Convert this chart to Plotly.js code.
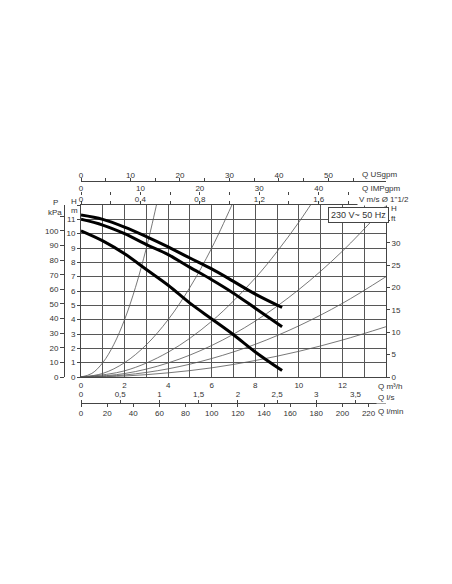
<!DOCTYPE html>
<html><head><meta charset="utf-8">
<script src="https://cdn.plot.ly/plotly-3.0.1.min.js"></script>
<style>html,body{margin:0;padding:0;background:#fff;}#chart{width:452px;height:584px;}</style>
</head><body><div id="chart"></div>
<script>
// ---- Pump curves: flow Q (m3/h) vs head H (m) ----
const pumpQ = [0, 1, 2, 3, 4, 5, 6, 7, 8, 9.23];
const pumpH_high = [11.3, 11.0, 10.46, 9.8, 9.08, 8.3, 7.54, 6.67, 5.78, 4.85];
const pumpH_mid  = [11.0, 10.6, 10.0, 9.24, 8.54, 7.65, 6.79, 5.85, 4.8, 3.5];
const pumpH_low  = [10.2, 9.5, 8.6, 7.5, 6.4, 5.15, 4.05, 2.95, 1.75, 0.45];

// ---- Thin system curves (Q m3/h, H m) ----
const sysA_Q = [0, 0.5, 1, 1.5, 2, 2.5, 3, 3.5, 3.7];
const sysA_H = [0, 0.25, 1, 2.25, 4, 6.25, 9, 12.25, 13.7];
const sysB_Q = [0, 1, 2, 3, 4, 5, 6, 7, 7.3];
const sysB_H = [0, 0.25, 1, 2.25, 4, 6.25, 9, 12.25, 13.3];
const sysC_Q = [0, 2, 4, 6, 8, 9, 10, 11];
const sysC_H = [0, 0.43, 1.73, 3.89, 6.91, 8.75, 10.8, 13.07];
const sysD_Q = [0, 2, 4, 6, 8, 10, 12, 14];
const sysD_H = [0, 0.24, 0.98, 2.2, 3.9, 6.1, 8.78, 11.96];
const sysE_Q = [0, 2, 4, 6, 8, 10, 12, 14];
const sysE_H = [0, 0.14, 0.57, 1.29, 2.28, 3.57, 5.14, 7.0];
const sysF_Q = [0, 2, 4, 6, 8, 10, 12, 14];
const sysF_H = [0, 0.07, 0.29, 0.64, 1.15, 1.79, 2.58, 3.51];

// ---- Tick labels ----
const qM3hTicks = [0,1,2,3,4,5,6,7,8,9,10,11,12,13];
const qM3hText  = ['0','','2','','4','','6','','8','','10','','12',''];
const hMTicks = [0,1,2,3,4,5,6,7,8,9,10,11,12];
const hMText  = ['0','1','2','3','4','5','6','7','8','9','10','11',''];
const pKpaTicks = [0,10,20,30,40,50,60,70,80,90,100,110];
const pKpaText  = ['0','10','20','30','40','50','60','70','80','90','100',''];
const hFtTicks = [0,5,10,15,20,25,30,35];
const hFtText  = ['0','5','10','15','20','25','30',''];
const vTicks = [0,0.2,0.4,0.6,0.8,1.0,1.2,1.4,1.6,1.8];
const vText  = ['0','','0,4','','0,8','','1,2','','1,6',''];
const impTicks = [0,5,10,15,20,25,30,35,40,45];
const impText  = ['0','','10','','20','','30','','40',''];
const usTicks = [0,5,10,15,20,25,30,35,40,45,50,55];
const usText  = ['0','','10','','20','','30','','40','','50',''];
const lsTicks = [0,0.5,1,1.5,2,2.5,3,3.5];
const lsText  = ['0','0,5','1','1,5','2','2,5','3','3,5'];
const lminTicks = [0,20,40,60,80,100,120,140,160,180,200,220];

// ---- geometry helpers (paper coords) ----
const L = 50, R = 66, T = 160, B = 164, W = 452, HH = 584;
const pw = W - L - R, ph = HH - T - B;
const px = v => (v - L) / pw;
const py = v => (HH - B - v) / ph;

const txt = '#333', ln = '#444', grid = '#575757';
const tf = {family: 'Liberation Sans, Arial, sans-serif', size: 8, color: txt};

function sysTrace(x, y) {
  return {x: x, y: y, type: 'scatter', mode: 'lines', line: {color: '#555', width: 0.8, shape: 'spline'},
          hoverinfo: 'skip', showlegend: false};
}
function pumpTrace(y) {
  return {x: pumpQ, y: y, type: 'scatter', mode: 'lines', line: {color: '#000', width: 3, shape: 'spline'},
          hoverinfo: 'skip', showlegend: false};
}
// placeholder traces (no visible marks) so the extra unit axes get drawn
function axisHolder(xa, ya) {
  return {x: [null], y: [null], xaxis: xa, yaxis: ya, type: 'scatter', mode: 'lines',
          hoverinfo: 'skip', showlegend: false};
}

const data = [
  sysTrace(sysA_Q, sysA_H), sysTrace(sysB_Q, sysB_H), sysTrace(sysC_Q, sysC_H),
  sysTrace(sysD_Q, sysD_H), sysTrace(sysE_Q, sysE_H), sysTrace(sysF_Q, sysF_H),
  pumpTrace(pumpH_high), pumpTrace(pumpH_mid), pumpTrace(pumpH_low),
  axisHolder('x', 'y2'), axisHolder('x', 'y3'),
  axisHolder('x2', 'y'), axisHolder('x3', 'y'), axisHolder('x4', 'y'),
  axisHolder('x5', 'y'), axisHolder('x6', 'y')
];

const common = {zeroline: false, tickfont: tf, tickcolor: ln, linecolor: ln, linewidth: 1, fixedrange: true, autorange: false};

function ann(text, x, y, xanchor, extra) {
  return Object.assign({text: text, x: px(x), y: py(y), xref: 'paper', yref: 'paper',
    xanchor: xanchor || 'left', yanchor: 'middle', showarrow: false, font: tf}, extra || {});
}

const layout = {
  width: W, height: HH,
  margin: {l: L, r: R, t: T, b: B},
  paper_bgcolor: '#fff', plot_bgcolor: '#fff',
  showlegend: false,
  font: tf,
  xaxis: Object.assign({}, common, {
    domain: [px(81), 1], range: [0, 14], tickmode: 'array', tickvals: qM3hTicks, ticktext: qM3hText,
    showgrid: true, gridcolor: grid, gridwidth: 1, ticks: '', showline: true, mirror: true
  }),
  yaxis: Object.assign({}, common, {
    domain: [py(377), py(205)], range: [0, 12], tickmode: 'array', tickvals: hMTicks, ticktext: hMText,
    showgrid: true, gridcolor: grid, gridwidth: 1, ticks: 'outside', ticklen: 3, showline: true, mirror: true
  }),
  yaxis2: Object.assign({}, common, {
    overlaying: 'y', anchor: 'free', position: px(64), side: 'left', range: [0, 12 * 9.81],
    tickmode: 'array', tickvals: pKpaTicks, ticktext: pKpaText, ticks: 'outside', ticklen: 4,
    showgrid: false, showline: true
  }),
  yaxis3: Object.assign({}, common, {
    overlaying: 'y', anchor: 'x', side: 'right', range: [0, 38.5],
    tickmode: 'array', tickvals: hFtTicks, ticktext: hFtText, ticks: 'outside', ticklen: 3,
    showgrid: false, showline: false
  }),
  xaxis2: Object.assign({}, common, {
    overlaying: 'x', anchor: 'y', side: 'top', range: [0, 2.053],
    tickmode: 'array', tickvals: vTicks, ticktext: vText, ticks: 'outside', ticklen: 3,
    ticklabelstandoff: -4, showgrid: false, showline: false
  }),
  xaxis3: Object.assign({}, common, {
    overlaying: 'x', anchor: 'free', position: py(195), side: 'top', range: [0, 51.33],
    tickmode: 'array', tickvals: impTicks, ticktext: impText, ticks: 'outside', ticklen: 3,
    ticklabelstandoff: -2, showgrid: false, showline: false
  }),
  xaxis4: Object.assign({}, common, {
    overlaying: 'x', anchor: 'free', position: py(181), side: 'top', range: [0, 61.64],
    tickmode: 'array', tickvals: usTicks, ticktext: usText, ticks: 'outside', ticklen: 3,
    ticklabelstandoff: -3, showgrid: false, showline: true
  }),
  xaxis5: Object.assign({}, common, {
    overlaying: 'x', anchor: 'free', position: py(403), side: 'top', range: [0, 14 / 3.6],
    tickmode: 'array', tickvals: lsTicks, ticktext: lsText, ticks: 'outside', ticklen: 3,
    showgrid: false, showline: false
  }),
  xaxis6: Object.assign({}, common, {
    overlaying: 'x', anchor: 'free', position: py(403), side: 'bottom', range: [0, 14 * 1000 / 60],
    tickmode: 'array', tickvals: lminTicks, ticks: 'outside', ticklen: 3,
    ticklabelstandoff: -1, showgrid: false, showline: true
  }),
  annotations: [
    ann('P', 55, 202, 'center'),
    ann('kPa', 55, 212, 'center'),
    ann('H', 74, 201, 'center'),
    ann('m', 74, 210, 'center'),
    ann('H', 389, 208, 'left'),
    ann('ft', 389, 218, 'left'),
    ann('Q USgpm', 360, 174, 'left', {bgcolor: '#fff'}),
    ann('Q IMPgpm', 360, 188, 'left', {bgcolor: '#fff'}),
    ann('V m/s Ø 1"1/2', 357, 199, 'left', {bgcolor: '#fff'}),
    ann('Q m³/h', 376, 386, 'left', {bgcolor: '#fff'}),
    ann('Q l/s', 376, 397, 'left', {bgcolor: '#fff'}),
    ann('Q l/min', 376, 411, 'left', {bgcolor: '#fff'}),
    ann('230 V~ 50 Hz', 358, 215, 'center', {bordercolor: ln, borderwidth: 1, borderpad: 2, bgcolor: '#fff',
      font: {family: 'Liberation Sans, Arial, sans-serif', size: 9, color: txt}})
  ]
};

Plotly.newPlot('chart', data, layout, {staticPlot: true, displayModeBar: false});
</script>
</body></html>
